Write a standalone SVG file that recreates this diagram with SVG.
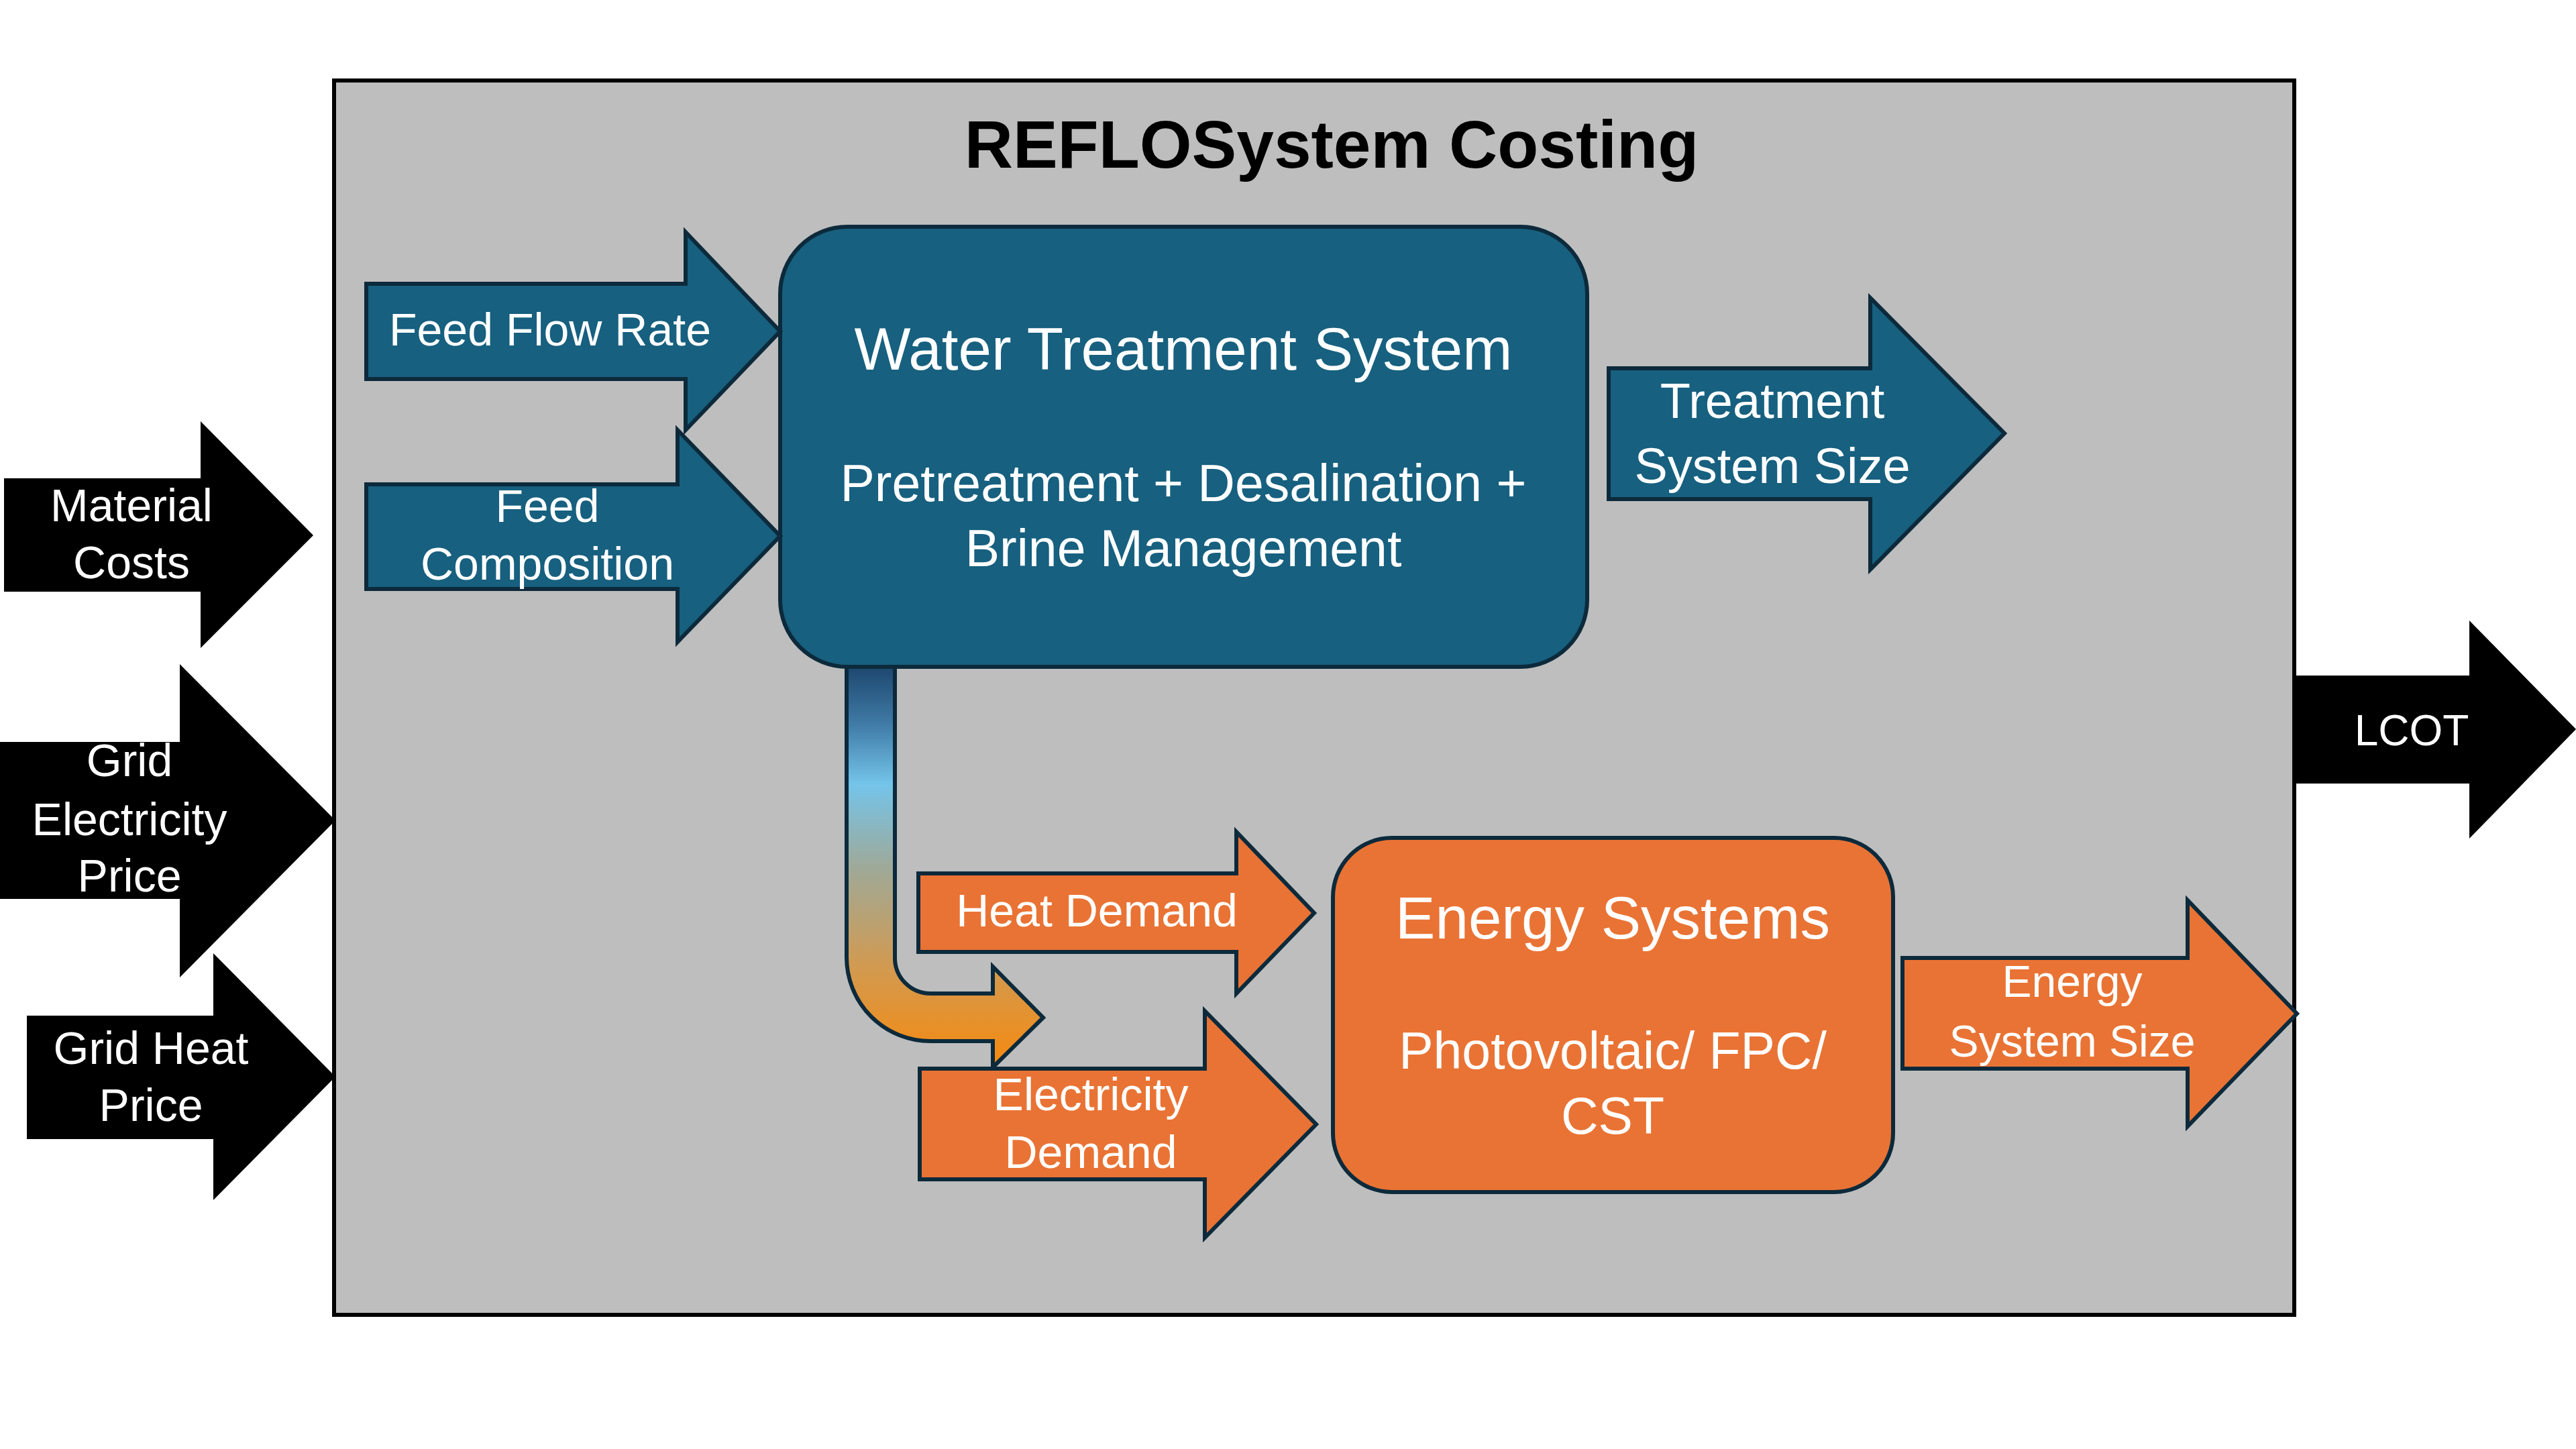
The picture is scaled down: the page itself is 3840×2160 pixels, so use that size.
<svg xmlns="http://www.w3.org/2000/svg" width="3840" height="2160" viewBox="0 0 3840 2160">
<defs>
<linearGradient id="flowGrad" gradientUnits="userSpaceOnUse" x1="0" y1="996" x2="0" y2="1591">
<stop offset="0" stop-color="#1E4870"/>
<stop offset="0.14" stop-color="#3F7BA6"/>
<stop offset="0.29" stop-color="#74C4EA"/>
<stop offset="0.5" stop-color="#9FA998"/>
<stop offset="0.75" stop-color="#D29A50"/>
<stop offset="1" stop-color="#F7890E"/>
</linearGradient>
<style>
.txt{font-family:"Liberation Sans",Arial,sans-serif;fill:#FFFFFF;text-anchor:middle}
.blue{fill:#17607F;stroke:#0C2A3B;stroke-width:6;stroke-linejoin:miter}
.orange{fill:#E97334;stroke:#0C2A3B;stroke-width:6;stroke-linejoin:miter}
.black{fill:#000000}
.lbl{font-size:68px}
.big{font-size:74px}
.head{font-size:89px}
.sub{font-size:77px}
</style>
</defs>
<rect width="3840" height="2160" fill="#FFFFFF"/>
<g id="frame">
<rect x="498" y="120" width="2922" height="1840" fill="#BEBEBE" stroke="#000000" stroke-width="6"/>
<text x="1985" y="250" font-family="Liberation Sans, Arial, sans-serif" font-weight="bold" font-size="100" fill="#000000" text-anchor="middle">REFLOSystem Costing</text>
</g>
<g id="connectors">
<path d="M1262,994 V1427 A125,125 0 0 0 1387,1552 H1480 V1591 L1555,1517 L1480,1441 V1481 H1387 A53,53 0 0 1 1334,1428 V994 Z" fill="url(#flowGrad)" stroke="#0C2A3B" stroke-width="6"/>
</g>
<g id="water-treatment">
<rect class="blue" x="1163" y="338" width="1203" height="656" rx="100" ry="100"/>
<text class="txt head" x="1764" y="551">Water Treatment System</text>
<text class="txt sub" x="1764" y="747">Pretreatment + Desalination +</text>
<text class="txt sub" x="1764" y="844">Brine Management</text>
</g>
<g id="energy-systems">
<rect class="orange" x="1987" y="1249" width="835" height="528" rx="88" ry="88"/>
<text class="txt head" x="2404" y="1399">Energy Systems</text>
<text class="txt sub" x="2404" y="1593">Photovoltaic/ FPC/</text>
<text class="txt sub" x="2404" y="1690">CST</text>
</g>
<g id="feed-flow-rate">
<path class="blue" d="M546,423 H1022 V346 L1163,494 L1022,641 V565 H546 Z"/>
<text class="txt lbl" x="820" y="515">Feed Flow Rate</text>
</g>
<g id="feed-composition">
<path class="blue" d="M546,722 H1010 V641 L1163,799 L1010,957 V878 H546 Z"/>
<text class="txt lbl" x="816" y="778">Feed</text>
<text class="txt lbl" x="816" y="864">Composition</text>
</g>
<g id="treatment-system-size">
<path class="blue" d="M2398,549 H2788 V444 L2988,646 L2788,849 V744 H2398 Z"/>
<text class="txt big" x="2642" y="623">Treatment</text>
<text class="txt big" x="2642" y="720">System Size</text>
</g>
<g id="material-costs">
<path class="black" d="M6,713 H299 V628 L467,798 L299,966 V882 H6 Z"/>
<text class="txt lbl" x="196" y="777">Material</text>
<text class="txt lbl" x="196" y="862">Costs</text>
</g>
<g id="grid-electricity-price">
<path class="black" d="M0,1106 H268 V990 L500,1223 L268,1457 V1340 H0 Z"/>
<text class="txt lbl" x="193" y="1157">Grid</text>
<text class="txt lbl" x="193" y="1245">Electricity</text>
<text class="txt lbl" x="193" y="1329">Price</text>
</g>
<g id="grid-heat-price">
<path class="black" d="M40,1514 H318 V1421 L500,1605 L318,1789 V1698 H40 Z"/>
<text class="txt lbl" x="225" y="1586">Grid Heat</text>
<text class="txt lbl" x="225" y="1671">Price</text>
</g>
<g id="lcot">
<path class="black" d="M3420,1007 H3681 V925 L3840,1087 L3681,1250 V1168 H3420 Z"/>
<text class="txt" x="3595" y="1111" font-size="64">LCOT</text>
</g>
<g id="heat-demand">
<path class="orange" d="M1369,1302 H1843 V1240 L1959,1361 L1843,1481 V1419 H1369 Z"/>
<text class="txt lbl" x="1635" y="1381">Heat Demand</text>
</g>
<g id="electricity-demand">
<path class="orange" d="M1371,1593 H1796 V1507 L1962,1676 L1796,1845 V1758 H1371 Z"/>
<text class="txt lbl" x="1626" y="1655">Electricity</text>
<text class="txt lbl" x="1626" y="1741">Demand</text>
</g>
<g id="energy-system-size">
<path class="orange" d="M2836,1428 H3261 V1342 L3424,1511 L3261,1679 V1593 H2836 Z"/>
<text class="txt" x="3089" y="1486" font-size="66">Energy</text>
<text class="txt" x="3089" y="1575" font-size="66">System Size</text>
</g>
</svg>
